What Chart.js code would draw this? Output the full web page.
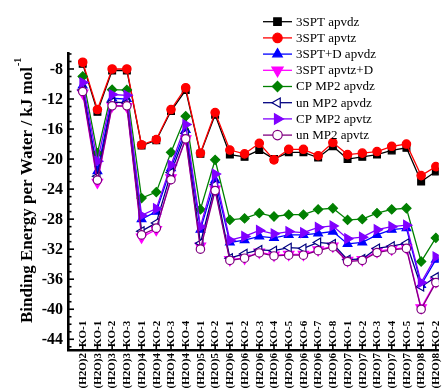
<!DOCTYPE html>
<html><head><meta charset="utf-8">
<script src="https://cdn.jsdelivr.net/npm/chart.js@4.4.0/dist/chart.umd.min.js"></script>
<style>html,body{margin:0;padding:0;background:#fff;overflow:hidden}canvas{display:block}</style>
</head><body>
<canvas id="c" width="446" height="389"></canvas>
<script>
const clusters = ['(H2O)2','(H2O)3','(H2O)3','(H2O)3','(H2O)4','(H2O)4','(H2O)4','(H2O)4','(H2O)5','(H2O)5',
  '(H2O)6','(H2O)6','(H2O)6','(H2O)6','(H2O)6','(H2O)6','(H2O)6','(H2O)6',
  '(H2O)7','(H2O)7','(H2O)7','(H2O)7','(H2O)7','(H2O)8','(H2O)8'];
const isomers = ['KO-1','KO-1','KO-2','KO-3','KO-1','KO-2','KO-3','KO-4','KO-1','KO-2',
  'KO-1','KO-2','KO-3','KO-4','KO-5','KO-6','KO-7','KO-8',
  'KO-1','KO-2','KO-3','KO-4','KO-5','KO-1','KO-2'];
const yTickLabels = [-8,-12,-16,-20,-24,-28,-32,-36,-40,-44];
const seriesNames = ['3SPT apvdz','3SPT apvtz','3SPT+D apvdz','3SPT apvtz+D','CP MP2 apvdz','un MP2 apvdz','CP MP2 apvtz','un MP2 apvtz'];

const spt_apvdz = [-7.3,-13.7,-8.2,-8.2,-18.2,-17.5,-13.6,-10.8,-19.3,-14.1,-19.4,-19.7,-18.8,-20.0,-19.1,-19.1,-19.8,-18.3,-20.0,-19.7,-19.4,-18.85,-18.5,-23.0,-21.65];
const spt_apvtz = [-7.1,-13.4,-8.0,-8.0,-18.1,-17.4,-13.4,-10.5,-19.2,-13.8,-18.8,-19.3,-17.9,-20.1,-18.7,-18.7,-19.55,-17.8,-19.4,-19.2,-19.0,-18.3,-18.0,-22.2,-21.0];
const sptD_apvdz = [-10.2,-21.6,-11.9,-12.0,-28.0,-27.0,-21.2,-16.1,-29.4,-22.8,-31.1,-30.8,-30.3,-30.5,-30.1,-30.1,-29.9,-29.65,-31.3,-31.1,-30.1,-29.4,-29.2,-36.75,-33.4];
const sptD_apvtz = [-11.2,-23.1,-12.9,-13.0,-30.4,-29.4,-22.5,-17.3,-31.6,-24.0,-33.4,-33.2,-32.4,-32.8,-32.7,-32.7,-32.1,-31.6,-33.5,-33.4,-32.3,-32.0,-31.8,-39.8,-36.3];
const cpmp2_apvdz = [-9.0,-19.2,-10.75,-10.8,-25.2,-24.4,-19.1,-14.3,-26.7,-20.1,-28.1,-27.9,-27.2,-27.65,-27.4,-27.4,-26.7,-26.55,-28.1,-28.0,-27.2,-26.7,-26.55,-33.65,-30.5];
const unmp2_apvdz = [-10.8,-22.3,-12.4,-12.5,-29.6,-28.5,-21.8,-16.6,-31.2,-23.4,-33.2,-32.6,-32.1,-32.2,-31.8,-31.9,-31.1,-31.3,-33.4,-33.3,-31.9,-31.6,-31.2,-37.0,-35.7];
const cpmp2_apvtz = [-9.8,-20.3,-11.4,-11.5,-27.5,-26.6,-20.8,-15.4,-29.0,-22.0,-30.8,-30.3,-29.5,-29.95,-29.65,-29.8,-29.1,-28.9,-30.6,-30.4,-29.4,-29.0,-28.8,-36.45,-33.0];
const unmp2_apvtz = [-11.0,-22.8,-12.9,-12.9,-30.1,-29.2,-22.75,-17.3,-32.0,-24.2,-33.5,-33.2,-32.5,-32.9,-32.8,-32.8,-32.2,-31.7,-33.65,-33.5,-32.45,-32.1,-31.9,-40.0,-36.45];

const seriesValues = [spt_apvdz, spt_apvtz, sptD_apvdz, sptD_apvtz, cpmp2_apvdz, unmp2_apvdz, cpmp2_apvtz, unmp2_apvtz];
const styles = [
  {c:'#000000', bg:'#000000', ps:'rect', r:4.8, rot:0},
  {c:'#ff0000', bg:'#ff0000', ps:'circle', r:4.2, rot:0},
  {c:'#0000ff', bg:'#0000ff', ps:'triangle', r:5, rot:0},
  {c:'#ff00ff', bg:'#ff00ff', ps:'triangle', r:6, rot:180},
  {c:'#008000', bg:'#008000', ps:'rectRot', r:4.6, rot:0},
  {c:'#000080', bg:'#ffffff', ps:'triangle', r:5, rot:270},
  {c:'#8000ff', bg:'#8000ff', ps:'triangle', r:5.5, rot:90},
  {c:'#800080', bg:'#ffffff', ps:'circle', r:4.2, rot:0}
];

const datasets = seriesValues.map((vals, k) => ({
  label: seriesNames[k],
  data: vals.map((v, i) => ({x: i, y: v})),
  borderColor: styles[k].c,
  backgroundColor: styles[k].bg,
  pointBackgroundColor: styles[k].bg,
  pointBorderColor: styles[k].c,
  pointStyle: styles[k].ps,
  pointRadius: styles[k].r,
  pointRotation: styles[k].rot,
  pointBorderWidth: 1.2,
  borderWidth: 1.3,
  tension: 0,
  order: 8 - k
}));

const SERIF = '"Liberation Serif","Times New Roman",serif';

const deco = {
  id: 'deco',
  afterDraw(chart) {
    const {ctx, chartArea: a, scales: {x, y}} = chart;
    ctx.save();
    ctx.strokeStyle = '#000';
    ctx.fillStyle = '#000';
    ctx.lineWidth = 1.6;
    // y ticks (inward)
    for (let v = -45; v <= -6; v++) {
      const py = y.getPixelForValue(v);
      const len = (v % 4 === 0) ? 6 : 3.5;
      ctx.beginPath(); ctx.moveTo(a.left, py); ctx.lineTo(a.left + len, py); ctx.stroke();
    }
    // x ticks
    for (let i = 0; i < isomers.length; i++) {
      const px = x.getPixelForValue(i);
      ctx.beginPath(); ctx.moveTo(px, a.bottom); ctx.lineTo(px, a.bottom - 5); ctx.stroke();
    }
    // y tick labels
    ctx.font = 'bold 16px ' + SERIF;
    ctx.textAlign = 'right'; ctx.textBaseline = 'middle';
    yTickLabels.forEach(v => ctx.fillText(String(v), a.left - 5, y.getPixelForValue(v) + 1));
    // x tick labels (straddling the axis)
    ctx.font = 'bold 11px ' + SERIF;
    for (let i = 0; i < isomers.length; i++) {
      const px = x.getPixelForValue(i);
      ctx.save();
      ctx.translate(px, a.bottom);
      ctx.rotate(-Math.PI / 2);
      ctx.textBaseline = 'middle';
      ctx.textAlign = 'left';
      ctx.fillText(isomers[i], 3, 0.5);
      ctx.textAlign = 'right';
      ctx.fillText(clusters[i], -3, 0.5);
      ctx.restore();
    }
    // y axis title
    ctx.save();
    ctx.translate(32, 323);
    ctx.rotate(-Math.PI / 2);
    ctx.textAlign = 'left'; ctx.textBaseline = 'alphabetic';
    ctx.font = 'bold 17px ' + SERIF;
    const main = 'Binding Energy per Water / kJ mol';
    ctx.fillText(main, 0, 0);
    const w1 = ctx.measureText(main).width;
    ctx.font = 'bold 10px ' + SERIF;
    ctx.fillText('-1', w1 + 1, -11);
    ctx.restore();
    // legend
    ctx.font = '13px ' + SERIF;
    ctx.textAlign = 'left'; ctx.textBaseline = 'middle';
    for (let k = 0; k < seriesNames.length; k++) {
      const ry = 21.7 + k * 16.2;
      const s = styles[k];
      ctx.strokeStyle = s.c; ctx.lineWidth = 1.3;
      ctx.beginPath(); ctx.moveTo(263, ry); ctx.lineTo(292, ry); ctx.stroke();
      ctx.fillStyle = s.bg; ctx.strokeStyle = s.c; ctx.lineWidth = 1.2;
      Chart.helpers.drawPoint(ctx, {pointStyle: s.ps, radius: s.r + 0.5, rotation: s.rot, borderWidth: 1.2}, 277.5, ry);
      ctx.fillStyle = '#000';
      ctx.fillText(seriesNames[k], 296, ry + 0.5);
    }
    ctx.restore();
  }
};

new Chart(document.getElementById('c'), {
  type: 'line',
  data: {datasets},
  options: {
    responsive: false,
    animation: false,
    devicePixelRatio: 1,
    layout: {padding: {left: 68, top: 53, right: 0, bottom: 39}},
    plugins: {legend: {display: false}, tooltip: {enabled: false}},
    scales: {
      x: {
        type: 'linear', min: -1.0, max: 24.2,
        ticks: {display: false},
        grid: {display: true, drawOnChartArea: false, drawTicks: false},
        border: {display: true, color: '#000', width: 2.6}
      },
      y: {
        type: 'linear', min: -45.43, max: -5.87,
        ticks: {display: false},
        grid: {display: true, drawOnChartArea: false, drawTicks: false},
        border: {display: true, color: '#000', width: 2.6}
      }
    }
  },
  plugins: [deco]
});
</script>
</body></html>
